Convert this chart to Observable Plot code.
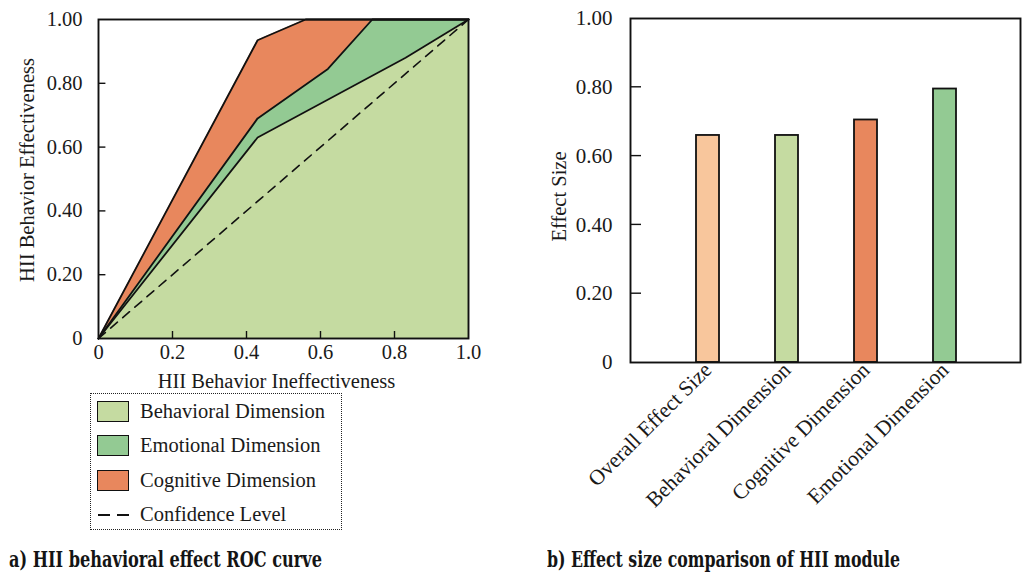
<!DOCTYPE html>
<html>
<head>
<meta charset="utf-8">
<script src="https://cdn.jsdelivr.net/npm/d3@7"></script>
<script src="https://cdn.jsdelivr.net/npm/@observablehq/plot@0.6"></script>
<style>
  html, body { margin: 0; padding: 0; background: #fff; }
  #root { position: relative; width: 1028px; height: 573px; overflow: hidden; font-family: "Liberation Serif", "DejaVu Serif", serif; }
  #left { position: absolute; left: 0; top: 0; }
  #right { position: absolute; left: 520px; top: 0; }
  .legend { position: absolute; left: 90px; top: 393px; width: 252px; height: 137px; border: 1.6px dotted #222; box-sizing: border-box; }
  .item { position: absolute; left: 6px; height: 24px; display: flex; align-items: center; font-size: 20.5px; color: #1a1a1a; white-space: nowrap; }
  .sw { width: 32px; height: 21px; border: 1.7px solid #111; box-sizing: border-box; margin-right: 11px; flex: none; }
  .dash { width: 32px; height: 4px; margin-right: 11px; flex: none; display: block; }
  .cap { position: absolute; top: 549px; line-height: 22px; font-family: "DejaVu Serif", "Liberation Serif", serif; font-stretch: condensed; font-weight: bold; font-size: 21.5px; color: #141414; white-space: nowrap; transform-origin: 0 50%; }
</style>
</head>
<body>
<div id="root">
  <div id="left"></div>
  <div id="right"></div>
  <div class="legend" id="legend"></div>
  <div class="cap" id="capA" style="left:9px">a) HII behavioral effect ROC curve</div>
  <div class="cap" id="capB" style="left:547px">b) Effect size comparison of HII module</div>
</div>
<script>
// ---- ROC curve data (a) ----
const behavioralX = [0, 0.43, 0.83, 1.0];
const behavioralY = [0, 0.63, 0.88, 1.0];
const emotionalX = [0, 0.43, 0.62, 0.74, 1.0];
const emotionalY = [0, 0.69, 0.845, 1.0, 1.0];
const cognitiveX = [0, 0.43, 0.45, 0.56, 1.0];
const cognitiveY = [0, 0.935, 0.945, 1.0, 1.0];
const confidenceX = [0, 1.0];
const confidenceY = [0, 1.0];
const rocXTicks = [0, 0.2, 0.4, 0.6, 0.8, 1.0];
const rocYTicks = [0, 0.2, 0.4, 0.6, 0.8, 1.0];

// ---- Effect size data (b) ----
const categories = ["Overall Effect Size", "Behavioral Dimension", "Cognitive Dimension", "Emotional Dimension"];
const effectSizes = [0.66, 0.66, 0.705, 0.795];
const effectYTicks = [0, 0.2, 0.4, 0.6, 0.8, 1.0];

const legendNames = ["Behavioral Dimension", "Emotional Dimension", "Cognitive Dimension", "Confidence Level"];

const C_BEH = "#c5dba1";
const C_EMO = "#93ca93";
const C_COG = "#e8875d";
const C_OVR = "#f8c69c";

const zip = (xs, ys) => xs.map((x, i) => ({x, y: ys[i]}));
const beh = zip(behavioralX, behavioralY);
const emo = zip(emotionalX, emotionalY);
const cog = zip(cognitiveX, cognitiveY);
const conf = zip(confidenceX, confidenceY);

const fmtY = d => d === 0 ? "0" : d.toFixed(2);
const fmtX = d => d === 0 ? "0" : d.toFixed(1);

const left = Plot.plot({
  width: 490, height: 400,
  marginLeft: 98, marginRight: 22, marginTop: 19, marginBottom: 62,
  style: {fontFamily: "Liberation Serif, serif", fontSize: "20.5px", color: "#1a1a1a", background: "transparent", overflow: "visible"},
  x: {domain: [0, 1], label: null},
  y: {domain: [0, 1], label: null},
  marks: [
    Plot.areaY(cog, {x: "x", y: "y", fill: C_COG}),
    Plot.areaY(emo, {x: "x", y: "y", fill: C_EMO}),
    Plot.areaY(beh, {x: "x", y: "y", fill: C_BEH}),
    Plot.line(cog, {x: "x", y: "y", stroke: "#111", strokeWidth: 1.8}),
    Plot.line(emo, {x: "x", y: "y", stroke: "#111", strokeWidth: 1.8}),
    Plot.line(beh, {x: "x", y: "y", stroke: "#111", strokeWidth: 1.8}),
    Plot.line(conf, {x: "x", y: "y", stroke: "#111", strokeWidth: 1.6, strokeDasharray: "9,7"}),
    Plot.ruleY(rocYTicks.slice(1, -1), {x1: 0, x2: 0.02, stroke: "#111", strokeWidth: 1.4}),
    Plot.ruleX(rocXTicks.slice(1, -1), {y1: 0, y2: 0.022, stroke: "#111", strokeWidth: 1.4}),
    Plot.axisY(rocYTicks, {tickSize: 0, tickPadding: 16, tickFormat: fmtY, fontSize: 20.5, label: null}),
    Plot.axisX(rocXTicks, {tickSize: 0, tickPadding: 6, tickFormat: fmtX, fontSize: 20.5, label: null}),
    Plot.frame({stroke: "#111", strokeWidth: 1.9}),
    Plot.text(["HII Behavior Ineffectiveness"], {frameAnchor: "bottom", dx: -7, dy: 49, fontSize: 20.5, fill: "#1a1a1a"}),
    Plot.text(["HII Behavior Effectiveness"], {frameAnchor: "left", rotate: -90, textAnchor: "middle", dx: -71, dy: -9, fontSize: 20.5, fill: "#1a1a1a"})
  ]
});
document.getElementById("left").appendChild(left);

const bars = categories.map((c, i) => ({c, v: effectSizes[i]}));
const right = Plot.plot({
  width: 508, height: 540,
  marginLeft: 110, marginRight: 8, marginTop: 18, marginBottom: 178,
  style: {fontFamily: "Liberation Serif, serif", fontSize: "21px", color: "#1a1a1a", background: "transparent", overflow: "visible"},
  x: {domain: categories, paddingInner: 0.71, paddingOuter: 0.8, align: 0.51, label: null},
  y: {domain: [0, 1], label: null},
  color: {domain: categories, range: [C_OVR, C_BEH, C_COG, C_EMO]},
  marks: [
    Plot.barY(bars, {x: "c", y: "v", fill: "c", stroke: "#111", strokeWidth: 1.8}),
    Plot.axisY(effectYTicks, {tickSize: 0, tickPadding: 18, tickFormat: fmtY, fontSize: 21, label: null}),
    Plot.axisX({tickSize: 0, tickPadding: 4, tickRotate: -45, fontSize: 21.5, label: null}),
    Plot.frame({stroke: "#111", strokeWidth: 1.9}),
    Plot.text(["Effect Size"], {frameAnchor: "left", rotate: -90, textAnchor: "middle", dx: -71, dy: 6, fontSize: 20.5, fill: "#1a1a1a"})
  ]
});
document.getElementById("right").appendChild(right);

// inward y ticks for right chart, positioned through the chart's own y scale
(function () {
  const ys = right.scale("y");
  const svg = d3.select(right);
  svg.append("g").selectAll("line").data(effectYTicks.slice(1, -1)).join("line")
    .attr("x1", 110).attr("x2", 121)
    .attr("y1", d => ys.apply(d)).attr("y2", d => ys.apply(d))
    .attr("stroke", "#111").attr("stroke-width", 1.4);
})();

// legend
const legend = document.getElementById("legend");
const swatches = [C_BEH, C_EMO, C_COG, null];
legendNames.forEach((name, i) => {
  const row = document.createElement("div");
  row.className = "item";
  row.style.top = (5 + i * 34.5) + "px";
  let sw;
  if (swatches[i]) {
    sw = document.createElement("div");
    sw.className = "sw"; sw.style.background = swatches[i];
  } else {
    sw = document.createElementNS("http://www.w3.org/2000/svg", "svg");
    sw.setAttribute("class", "dash");
    sw.setAttribute("width", "32"); sw.setAttribute("height", "4");
    const l = document.createElementNS("http://www.w3.org/2000/svg", "line");
    l.setAttribute("x1", "1"); l.setAttribute("x2", "32"); l.setAttribute("y1", "2"); l.setAttribute("y2", "2");
    l.setAttribute("stroke", "#111"); l.setAttribute("stroke-width", "2"); l.setAttribute("stroke-dasharray", "12,7");
    sw.appendChild(l);
  }
  row.appendChild(sw);
  const t = document.createElement("span");
  t.textContent = name;
  row.appendChild(t);
  legend.appendChild(row);
});

// fit the bold captions to the width they take in the reference
[["capA", 313], ["capB", 353]].forEach(([id, target]) => {
  const el = document.getElementById(id);
  const w = el.getBoundingClientRect().width;
  if (w > 0) el.style.transform = `scaleX(${target / w})`;
});
</script>
</body>
</html>
